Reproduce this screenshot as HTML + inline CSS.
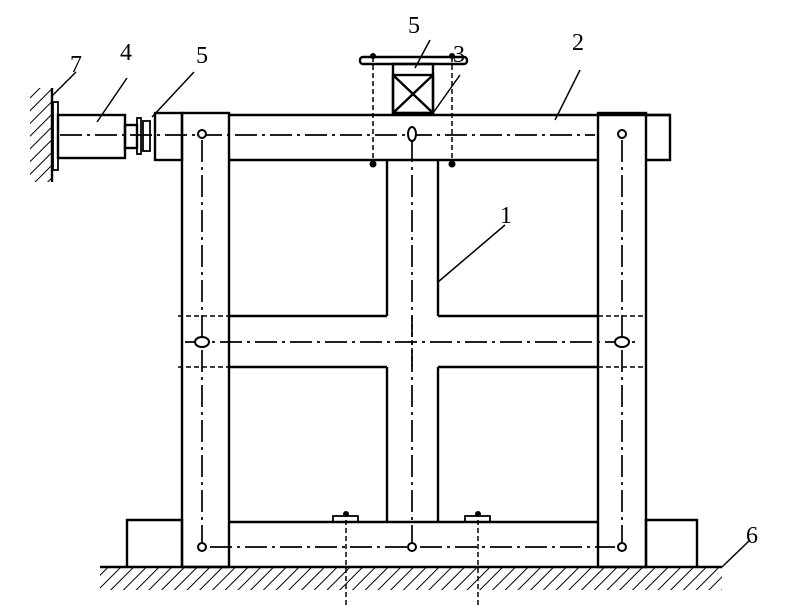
<!DOCTYPE html>
<html><head><style>body{margin:0;background:#fff}svg{display:block}text{font-family:"Liberation Serif",serif;font-size:24px;fill:#000}</style></head>
<body>
<svg width="800" height="608" viewBox="0 0 800 608" xmlns="http://www.w3.org/2000/svg">
<defs>
<pattern id="h" width="9" height="9" patternUnits="userSpaceOnUse" patternTransform="rotate(45)"><line x1="0" y1="0" x2="0" y2="9" stroke="#000" stroke-width="2"/></pattern>
</defs>
<g stroke="#000" stroke-width="2.4" fill="none">
<rect x="100" y="568" width="622" height="22" fill="url(#h)" stroke="none"/>
<line x1="100" y1="567" x2="722" y2="567"/>
<rect x="30" y="88" width="22" height="94" fill="url(#h)" stroke="none"/>
<line x1="52" y1="88" x2="52" y2="182"/>
<rect x="53" y="102" width="5" height="68" stroke-width="1.8"/>
<rect x="58" y="115" width="67" height="43"/>
<rect x="125" y="125" width="12" height="23"/>
<rect x="137" y="118" width="4" height="36" stroke-width="1.8"/>
<rect x="143" y="121" width="7" height="30" stroke-width="1.8"/>
<rect x="155" y="113" width="27" height="47"/>
<rect x="182" y="113" width="47" height="454"/>
<rect x="598" y="113" width="48" height="454"/>
<line x1="229" y1="115" x2="670" y2="115"/>
<line x1="229" y1="160" x2="598" y2="160"/>
<polyline points="646,115 670,115 670,160 646,160"/>
<line x1="387" y1="160" x2="387" y2="316"/>
<line x1="438" y1="160" x2="438" y2="316"/>
<line x1="387" y1="367" x2="387" y2="522"/>
<line x1="438" y1="367" x2="438" y2="522"/>
<line x1="229" y1="316" x2="387" y2="316"/><line x1="438" y1="316" x2="598" y2="316"/>
<line x1="229" y1="367" x2="387" y2="367"/><line x1="438" y1="367" x2="598" y2="367"/>
<line x1="229" y1="522" x2="598" y2="522"/>
<polyline points="182,567 182,520 127,520 127,567"/>
<polyline points="646,567 646,520 697,520 697,567"/>
<rect x="360" y="57" width="107" height="7" rx="3"/>
<rect x="393" y="64" width="40" height="49"/>
<rect x="393" y="75" width="40" height="38"/>
<line x1="393" y1="75" x2="433" y2="113"/><line x1="433" y1="75" x2="393" y2="113"/>
<rect x="333" y="516" width="25" height="6" stroke-width="1.8"/>
<rect x="465" y="516" width="25" height="6" stroke-width="1.8"/>
</g>
<g stroke="#000" stroke-width="1.5" fill="none" stroke-dasharray="5,3">
<line x1="373" y1="57" x2="373" y2="165"/><line x1="452" y1="57" x2="452" y2="165"/>
<line x1="346" y1="512" x2="346" y2="608"/><line x1="478" y1="512" x2="478" y2="608"/>
<line x1="178" y1="316" x2="229" y2="316"/><line x1="178" y1="367" x2="229" y2="367"/>
<line x1="598" y1="316" x2="646" y2="316"/><line x1="598" y1="367" x2="646" y2="367"/>
<line x1="412" y1="316" x2="412" y2="367"/>
</g>
<g stroke="#000" stroke-width="1.7" fill="none" stroke-dasharray="22,5,3,5">
<line x1="60" y1="135" x2="595" y2="135"/>
<line x1="185" y1="342" x2="640" y2="342"/>
<line x1="210" y1="547" x2="615" y2="547"/>
<line x1="202" y1="140" x2="202" y2="542"/>
<line x1="622" y1="140" x2="622" y2="542"/>
<line x1="412" y1="140" x2="412" y2="542"/>
</g>
<g stroke="#000" stroke-width="2" fill="#fff">
<circle cx="202" cy="134" r="4"/><circle cx="622" cy="134" r="4"/>
<ellipse cx="412" cy="134" rx="4" ry="7"/>
<ellipse cx="202" cy="342" rx="7" ry="5"/><ellipse cx="622" cy="342" rx="7" ry="5"/>
<circle cx="202" cy="547" r="4"/><circle cx="412" cy="547" r="4"/><circle cx="622" cy="547" r="4"/>
</g>
<g fill="#000">
<circle cx="373" cy="164" r="3.5"/><circle cx="452" cy="164" r="3.5"/>
<circle cx="373" cy="56" r="3"/><circle cx="452" cy="56" r="3"/>
<circle cx="346" cy="514" r="3"/><circle cx="478" cy="514" r="3"/>
</g>
<g stroke="#000" stroke-width="1.5">
<line x1="52" y1="96" x2="76" y2="72"/>
<line x1="97" y1="122" x2="127" y2="78"/>
<line x1="152" y1="117" x2="194" y2="72"/>
<line x1="415" y1="68" x2="430" y2="40"/>
<line x1="433" y1="113" x2="460" y2="75"/>
<line x1="555" y1="120" x2="580" y2="70"/>
<line x1="438" y1="282" x2="505" y2="225"/>
<line x1="722" y1="567" x2="750" y2="540"/>
</g>
<text x="70" y="72">7</text>
<text x="120" y="60">4</text>
<text x="196" y="63">5</text>
<text x="408" y="33">5</text>
<text x="453" y="62">3</text>
<text x="572" y="50">2</text>
<text x="500" y="223">1</text>
<text x="746" y="543">6</text>
</svg>
</body></html>
